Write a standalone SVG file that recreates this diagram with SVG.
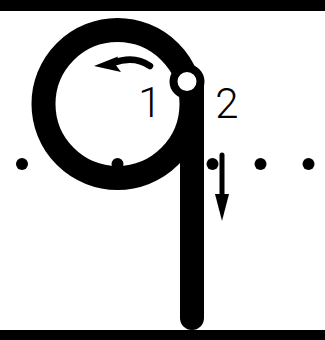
<svg xmlns="http://www.w3.org/2000/svg" width="325" height="340" viewBox="0 0 325 340">
<style>
.bar{fill:#000}
.dot{fill:#000}
.stroke{fill:none;stroke:#000;stroke-linecap:round}
.lbl{font-family:Roboto,"DejaVu Sans",sans-serif;font-weight:300;font-size:42px;fill:#000}
</style>
<rect width="325" height="340" fill="#fff"/>
<g id="guides">
<rect class="bar" x="0" y="0" width="325" height="11"/>
<rect class="bar" x="0" y="330" width="325" height="10"/>
<circle class="dot" cx="22" cy="164" r="6"/>
<circle class="dot" cx="117.5" cy="164" r="6"/>
<circle class="dot" cx="212.5" cy="164" r="6"/>
<circle class="dot" cx="260.5" cy="164" r="6"/>
<circle class="dot" cx="308.5" cy="164" r="6"/>
</g>
<g id="letter">
<circle class="stroke" cx="117.5" cy="104" r="74" stroke-width="24"/>
<line class="stroke" x1="192" y1="84" x2="192" y2="318" stroke-width="24"/>
</g>
<g id="start">
<circle cx="187" cy="81.5" r="13.5" fill="#fff" stroke="#000" stroke-width="8"/>
</g>
<g id="connectors">
<path class="stroke" d="M150,66 Q134,55 113,63" stroke-width="6.5"/>
<polygon points="94,66 118,56.5 115,64 121,72" fill="#000"/>
<line class="stroke" x1="222" y1="155" x2="222" y2="200" stroke-width="5"/>
<polygon points="215,194 229,194 222,221" fill="#000"/>
</g>
<g id="labels">
<text class="lbl" x="150" y="117" text-anchor="middle">1</text>
<text class="lbl" x="227" y="118" text-anchor="middle">2</text>
</g>
</svg>
